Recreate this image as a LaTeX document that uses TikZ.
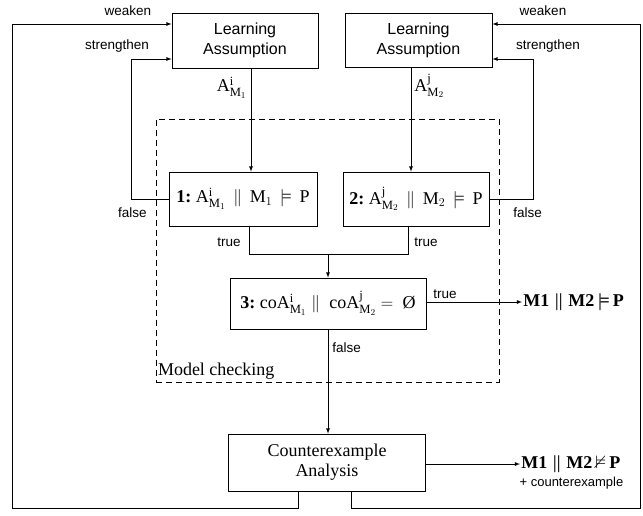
\documentclass[tikz,border=0pt]{standalone}
\usepackage{amssymb,amsmath}
\usepackage{fontspec}
\setmainfont{Liberation Serif}
\setsansfont{Liberation Sans}
\usetikzlibrary{arrows}

\tikzset{
  box/.style={draw, inner sep=2pt, align=center, font=\fontsize{18}{20}\selectfont},
  sbox/.style={box, font=\sffamily\fontsize{16}{20}\selectfont},
  lab/.style={inner sep=1pt, font=\sffamily\fontsize{13.5}{15}\selectfont},
  mlab/.style={inner sep=1pt, font=\fontsize{18}{20}\selectfont},
  res/.style={inner sep=1pt, anchor=west, font=\bfseries\boldmath\fontsize{18}{20}\selectfont},
}

\begin{document}
\begin{tikzpicture}[x=1pt, y=-1pt, >=latex, line width=0.8pt]
    \useasboundingbox (0,0) rectangle (643,515);
    % Boxes
    \node[sbox, minimum width=146pt, minimum height=55pt] (la1) at (245,40.5) {Learning\\Assumption};
    \node[sbox, minimum width=147pt, minimum height=54pt] (la2) at (418.5,40) {Learning\\Assumption};
    \node[box, minimum width=148pt, minimum height=54pt] (chk1) at (243,199)
      {\textbf{1:}\ $\mathrm{A}^{\mathrm{i}}_{\mathrm{M}_1}\,\parallel\, \mathrm{M}_1\,\models\, \mathrm{P}$};
    \node[box, minimum width=146pt, minimum height=54pt] (chk2) at (416,199)
      {\textbf{2:}\ $\mathrm{A}^{\mathrm{j}}_{\mathrm{M}_2}\,\parallel\, \mathrm{M}_2\,\models\, \mathrm{P}$};
    \node[box, minimum width=196pt, minimum height=51pt] (chk3) at (328,303.5)
      {\textbf{3:}\ co$\mathrm{A}^{\mathrm{i}}_{\mathrm{M}_1}\parallel{}$ co$\mathrm{A}^{\mathrm{j}}_{\mathrm{M}_2} ={}$ Ø};
    \node[box, minimum width=197pt, minimum height=57pt] (cex) at (327,462.5) {Counterexample\\Analysis};
    % Model checking region
    \node[draw, dash pattern=on 6pt off 4pt, minimum width=343pt, minimum height=263pt] (mc) at (327.5,250.5) {};
    \node[mlab, anchor=south west] (mclab) at ([shift={(1pt,2pt)}]mc.south west) {Model checking};
    % Results
    \node[res] (ok) at (522,302) {M1 $\parallel$ M2\,$\models$\,P};
    \node[res] (fail) at (520,464) {M1 $\parallel$ M2\,$\nvDash$\,P};
    \node[lab, anchor=north east, font=\sffamily\fontsize{13}{15}\selectfont] (note) at ([shift={(3pt,-2pt)}]fail.south east) {+ counterexample};
    % Corners of the loops
    \coordinate (sl) at (131,59);
    \coordinate (sr) at (533,59);
    \coordinate (wl) at (12,508);
    \coordinate (wr) at (640,508);
    \coordinate (join) at (328,254);
    % Arrows
    \draw[->] ([xshift=6pt]la1.south) -- ([xshift=6pt]la1.south |- chk1.north);
    \draw[->] ([xshift=-7.5pt]la2.south) -- ([xshift=-7.5pt]la2.south |- chk2.north);
    \draw ([xshift=6pt]chk1.south) |- (join);
    \draw ([xshift=-8pt]chk2.south) |- (join);
    \draw[->] (join) -- (join |- chk3.north);
    \draw[->] (chk3.east |- ok) -- (ok.west);
    \draw[->] (chk3.south) -- (chk3.south |- cex.north);
    \draw[->] (cex.east |- fail) -- (fail.west);
    \draw[->] (chk1.west) -| (sl) -- (sl -| la1.west);
    \draw[->] (chk2.east) -| (sr) -- (sr -| la2.east);
    \draw[->] ([xshift=-29pt]cex.south) |- (wl) |- ([yshift=16.5pt]la1.west);
    \draw[->] ([xshift=24pt]cex.south) |- (wr) |- ([yshift=16pt]la2.east);
    % Labels
    \node[lab] (w1) at (128,11) {weaken};
    \node[lab] (s1) at (117,46) {strengthen};
    \node[lab] (w2) at (543,11) {weaken};
    \node[lab] (s2) at (548,46) {strengthen};
    \node[mlab, anchor=east] (a1) at (248,88) {$\mathrm{A}^{\mathrm{i}}_{\mathrm{M}_1}$};
    \node[mlab, anchor=west] (a2) at (413,86) {$\mathrm{A}^{\mathrm{j}}_{\mathrm{M}_2}$};
    \node[lab, anchor=east] (f1) at (148,213) {false};
    \node[lab, anchor=west] (f2) at (512,213) {false};
    \node[lab, anchor=east] (t1) at (242,242) {true};
    \node[lab, anchor=west] (t2) at (413,242) {true};
    \node[lab, anchor=south west] (t3) at (432,300) {true};
    \node[lab, anchor=west] (f3) at (331,348) {false};
\end{tikzpicture}
\end{document}
